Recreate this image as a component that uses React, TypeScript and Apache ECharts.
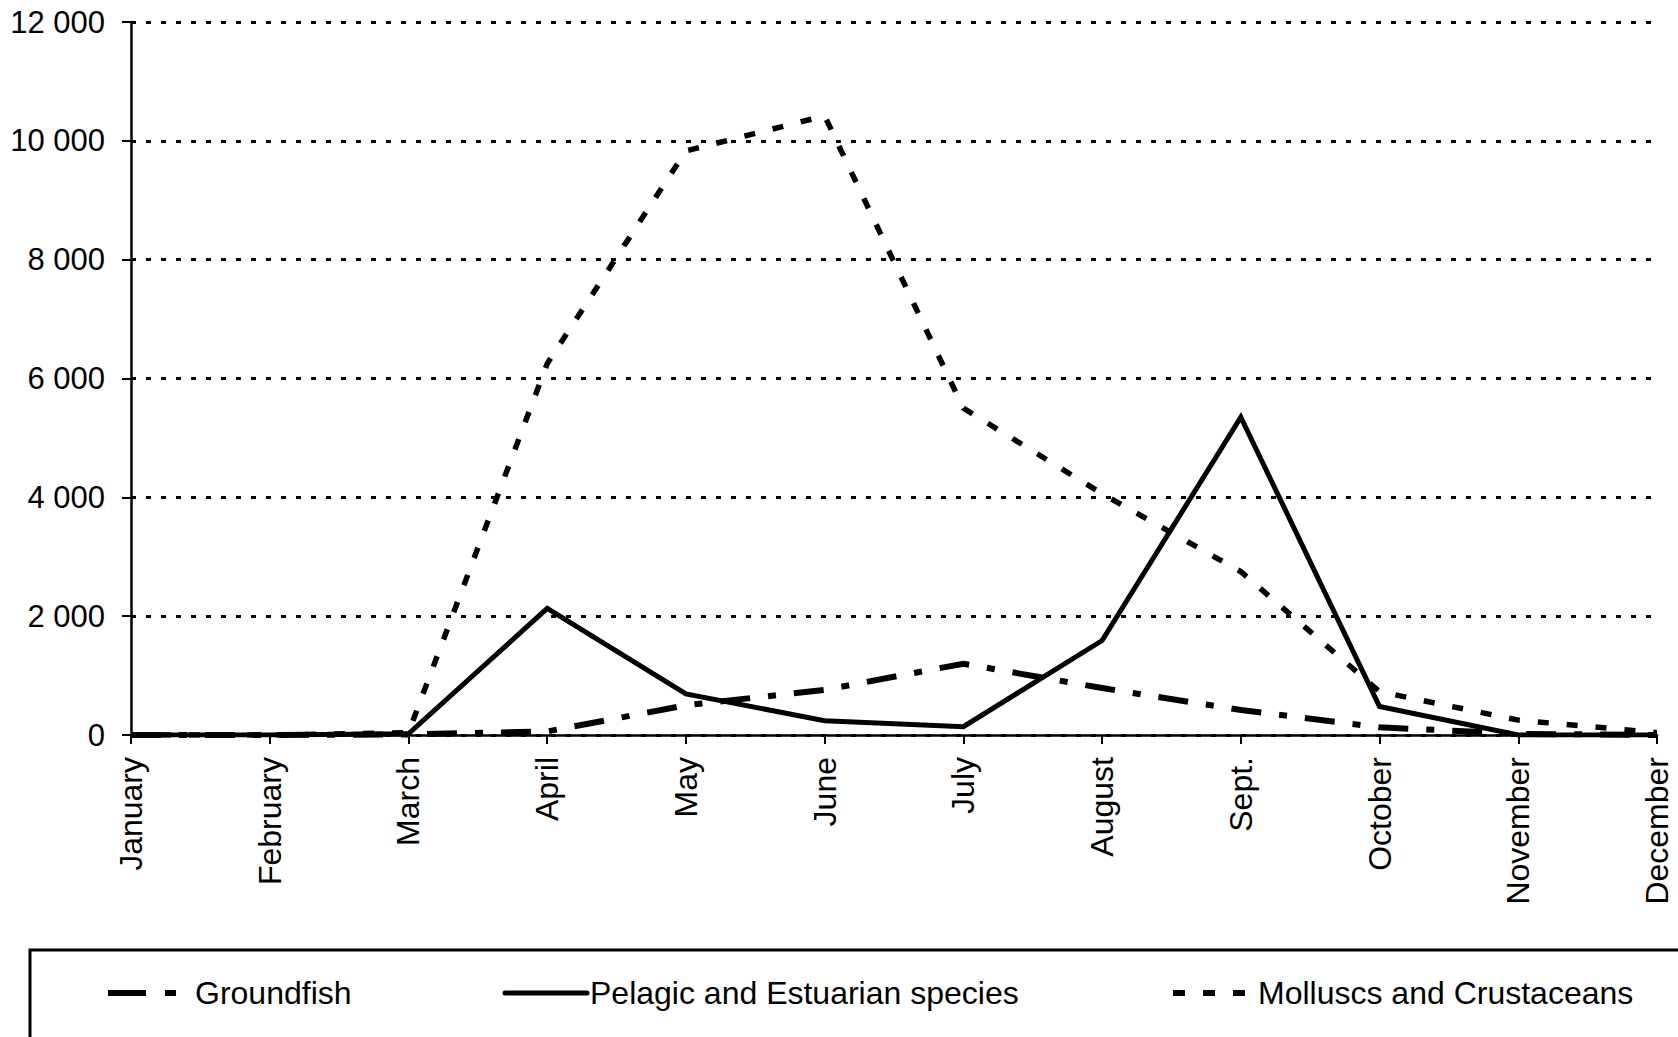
import React, { useEffect, useRef } from "react";
import * as echarts from "echarts";

const months = ["January", "February", "March", "April", "May", "June", "July", "August", "Sept.", "October", "November", "December"];
const groundfish = [0, 0, 10, 60, 500, 760, 1200, 790, 420, 130, 20, 0];
const pelagic = [0, 0, 20, 2130, 690, 240, 140, 1590, 5350, 480, 0, 0];
const molluscs = [0, 0, 40, 6250, 9830, 10420, 5500, 4060, 2750, 730, 250, 40];
const seriesNames = ["Groundfish", "Pelagic and Estuarian species", "Molluscs and Crustaceans"];
const yTicks = [0, 2000, 4000, 6000, 8000, 10000, 12000];

const FONT = "'Liberation Sans', Arial, sans-serif";

const fmt = (v: number) => String(v).replace(/\B(?=(\d{3})+(?!\d))/g, " ");

export default function App() {
  const ref = useRef<HTMLDivElement>(null);
  useEffect(() => {
    if (!ref.current) return;
    const chart = echarts.init(ref.current, null, { renderer: "svg" });
    const ly = 993;
    chart.setOption({
      animation: false,
      backgroundColor: "#ffffff",
      textStyle: { fontFamily: FONT },
      grid: { left: 131, right: 21, top: 22, bottom: 302, containLabel: false },
      xAxis: {
        type: "category",
        data: months,
        boundaryGap: false,
        axisLine: { show: true, lineStyle: { color: "#000", width: 2.5 } },
        axisTick: { show: true, inside: false, length: 9, alignWithLabel: true, lineStyle: { color: "#000", width: 2 } },
        axisLabel: { rotate: 90, margin: 22, color: "#000", fontSize: 32, fontFamily: FONT, interval: 0 },
        splitLine: { show: false },
      },
      yAxis: {
        type: "value",
        min: 0,
        max: yTicks[yTicks.length - 1],
        interval: 2000,
        axisLine: { show: true, lineStyle: { color: "#000", width: 2.5 } },
        axisTick: { show: true, inside: false, length: 9, lineStyle: { color: "#000", width: 2 } },
        axisLabel: { margin: 26, color: "#000", fontSize: 31, fontFamily: FONT, formatter: (v: number) => fmt(v) },
        splitLine: { show: true, lineStyle: { color: "#000", width: 3, type: [5, 10] } },
      },
      series: [
        {
          name: seriesNames[0],
          type: "line",
          data: groundfish,
          symbol: "none",
          lineStyle: { color: "#000", width: 6, type: [30, 18, 8, 18], cap: "butt", join: "miter" },
          z: 3,
        },
        {
          name: seriesNames[1],
          type: "line",
          data: pelagic,
          symbol: "none",
          lineStyle: { color: "#000", width: 5, type: "solid", join: "miter" },
          z: 4,
        },
        {
          name: seriesNames[2],
          type: "line",
          data: molluscs,
          symbol: "none",
          lineStyle: { color: "#000", width: 5.5, type: [11, 18], cap: "butt", join: "miter" },
          z: 2,
        },
      ],
      graphic: [
        {
          type: "rect",
          shape: { x: 30, y: 950, width: 1700, height: 200 },
          style: { fill: "none", stroke: "#000", lineWidth: 3 },
          silent: true,
        },
        { type: "line", shape: { x1: 108, y1: ly, x2: 146, y2: ly }, style: { stroke: "#000", lineWidth: 6 } },
        { type: "line", shape: { x1: 165, y1: ly, x2: 176, y2: ly }, style: { stroke: "#000", lineWidth: 6 } },
        { type: "text", x: 195, y: ly, style: { text: seriesNames[0], fill: "#000", font: `32px ${FONT}`, verticalAlign: "middle" } },
        { type: "line", shape: { x1: 505, y1: ly, x2: 587, y2: ly }, style: { stroke: "#000", lineWidth: 5, lineCap: "round" } },
        { type: "text", x: 590, y: ly, style: { text: seriesNames[1], fill: "#000", font: `32px ${FONT}`, verticalAlign: "middle" } },
        { type: "line", shape: { x1: 1173, y1: ly, x2: 1185, y2: ly }, style: { stroke: "#000", lineWidth: 6 } },
        { type: "line", shape: { x1: 1203, y1: ly, x2: 1215, y2: ly }, style: { stroke: "#000", lineWidth: 6 } },
        { type: "line", shape: { x1: 1233, y1: ly, x2: 1245, y2: ly }, style: { stroke: "#000", lineWidth: 6 } },
        { type: "text", x: 1258, y: ly, style: { text: seriesNames[2], fill: "#000", font: `32px ${FONT}`, verticalAlign: "middle" } },
      ],
    });
    return () => chart.dispose();
  }, []);
  return (
    <div
      ref={ref}
      style={{ position: "fixed", left: 0, top: 0, width: 1678, height: 1037, background: "#fff" }}
    />
  );
}
